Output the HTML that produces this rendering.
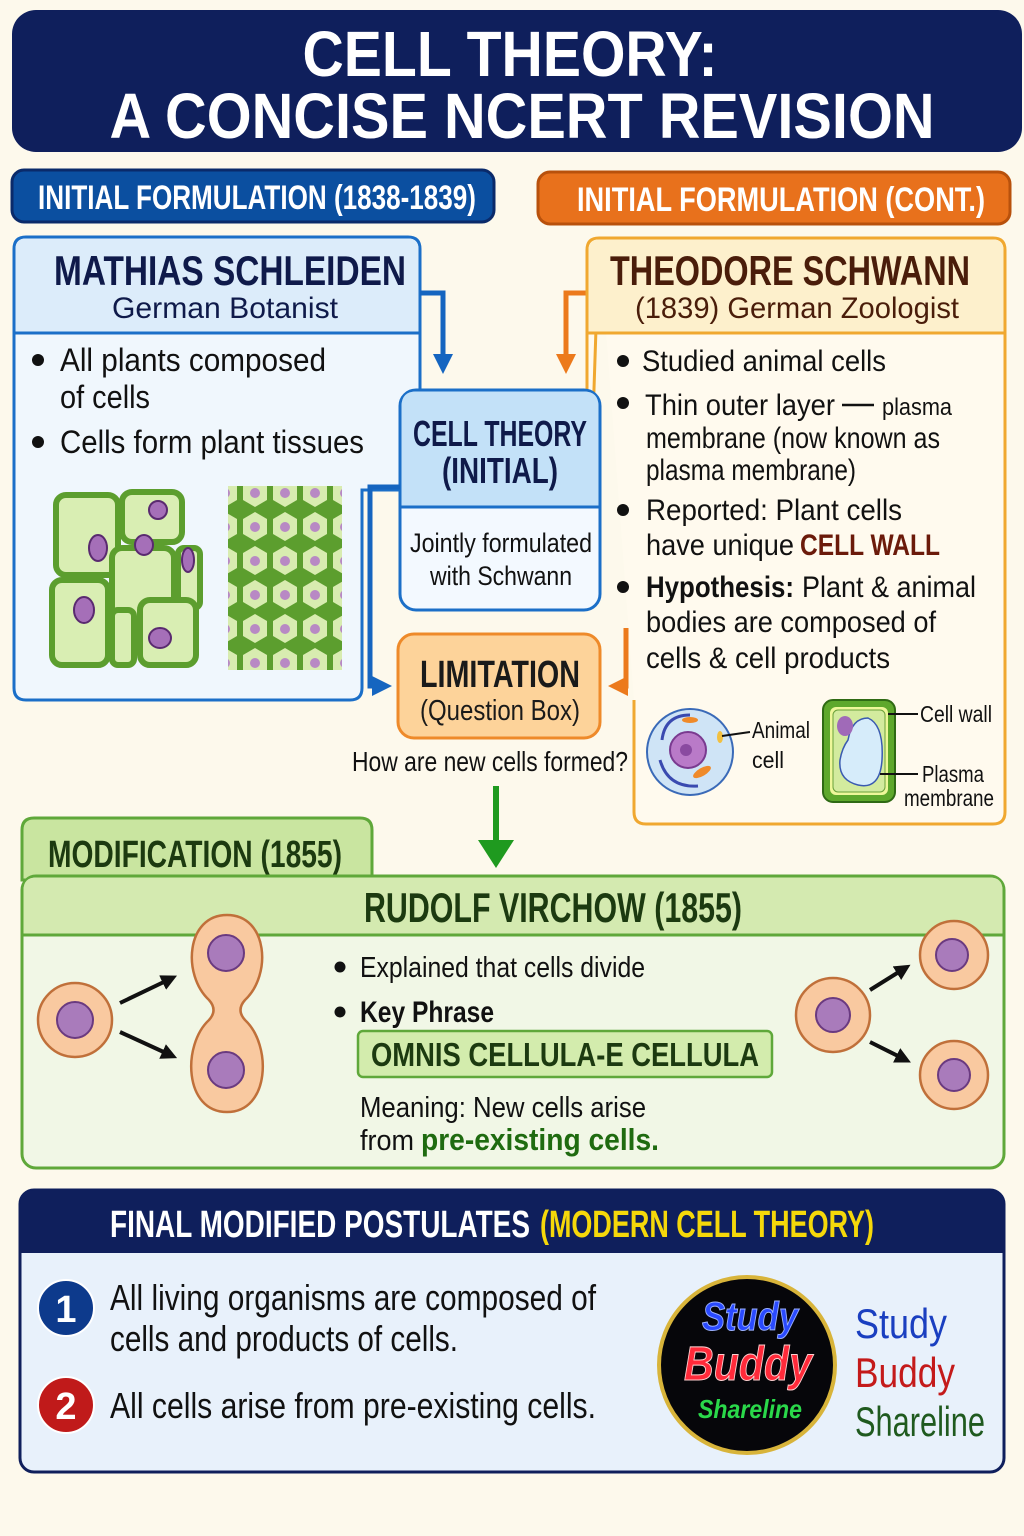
<!DOCTYPE html>
<html><head><meta charset="utf-8"><style>
html,body{margin:0;padding:0;background:#fdf9ec}
svg{display:block}
text{font-family:"Liberation Sans Narrow","Liberation Sans",sans-serif}
.b{font-weight:bold}
</style></head><body>
<svg width="1024" height="1536" viewBox="0 0 1024 1536" xmlns="http://www.w3.org/2000/svg">
<defs>
<marker id="ab" markerWidth="20" markerHeight="20" refX="8" refY="10" orient="auto" markerUnits="userSpaceOnUse" viewBox="0 0 20 20"><path d="M0,0 L20,10 L0,20 z" fill="#1565c0"/></marker>
<marker id="ao" markerWidth="20" markerHeight="20" refX="8" refY="10" orient="auto" markerUnits="userSpaceOnUse" viewBox="0 0 20 20"><path d="M0,0 L20,10 L0,20 z" fill="#ec7a1c"/></marker>
<marker id="ak" markerWidth="16" markerHeight="16" refX="6" refY="8" orient="auto" markerUnits="userSpaceOnUse" viewBox="0 0 16 16"><path d="M0,0 L16,8 L0,16 z" fill="#111"/></marker>
<pattern id="hex" width="30" height="34" patternUnits="userSpaceOnUse">
<rect width="30" height="34" fill="#5c9e2e"/>
<polygon points="15,2 27,9 27,24 15,31 3,24 3,9" fill="#d8ecb0"/>
<circle cx="15" cy="17" r="5" fill="#b889c4"/>
</pattern>
</defs>
<rect width="1024" height="1536" fill="#fdf9ec"/>

<rect x="12" y="10" width="1010" height="142" rx="24" fill="#0f1f5c"/>
<text x="510" y="76" text-anchor="middle" class="b" font-size="64" fill="#fff" textLength="415" lengthAdjust="spacingAndGlyphs">CELL THEORY:</text>
<text x="522" y="138" text-anchor="middle" class="b" font-size="64" fill="#fff" textLength="825" lengthAdjust="spacingAndGlyphs">A CONCISE NCERT REVISION</text>

<rect x="12" y="170" width="482" height="52" rx="12" fill="#0b4fa0" stroke="#0a2a6a" stroke-width="3"/>
<text x="257" y="209" text-anchor="middle" class="b" font-size="34" fill="#fff" textLength="438" lengthAdjust="spacingAndGlyphs">INITIAL FORMULATION (1838-1839)</text>
<rect x="538" y="172" width="472" height="52" rx="12" fill="#e8711c" stroke="#b8510c" stroke-width="3"/>
<text x="781" y="211" text-anchor="middle" class="b" font-size="34" fill="#fff" textLength="408" lengthAdjust="spacingAndGlyphs">INITIAL FORMULATION (CONT.)</text>

<path d="M26,237 H408 Q420,237 420,249 V490 H362 V688 Q362,700 350,700 H26 Q14,700 14,688 V249 Q14,237 26,237 Z" fill="#f0f7fd" stroke="#1b6fc8" stroke-width="3"/>
<path d="M26,238.5 H408 Q418.5,238.5 418.5,249 V333 H15.5 V249 Q15.5,238.5 26,238.5 Z" fill="#dcecfa"/>
<line x1="14" y1="333" x2="420" y2="333" stroke="#1b6fc8" stroke-width="3"/>
<text x="230" y="285" text-anchor="middle" class="b" font-size="42" fill="#0f1a4a" textLength="352" lengthAdjust="spacingAndGlyphs">MATHIAS SCHLEIDEN</text>
<text x="225" y="318" text-anchor="middle" font-size="30" fill="#0f1a4a" textLength="226" lengthAdjust="spacingAndGlyphs">German Botanist</text>
<circle cx="38" cy="360" r="6" fill="#111"/>
<text x="60" y="371" font-size="32" fill="#111" textLength="266" lengthAdjust="spacingAndGlyphs">All plants composed</text>
<text x="60" y="408" font-size="32" fill="#111" textLength="90" lengthAdjust="spacingAndGlyphs">of cells</text>
<circle cx="38" cy="442" r="6" fill="#111"/>
<text x="60" y="453" font-size="32" fill="#111" textLength="304" lengthAdjust="spacingAndGlyphs">Cells form plant tissues</text>

<g stroke="#5c9e2e" stroke-width="6" fill="#d9eeb3">
<rect x="56" y="495" width="62" height="80" rx="10"/>
<rect x="122" y="492" width="60" height="50" rx="10"/>
<rect x="112" y="548" width="62" height="90" rx="10"/>
<rect x="178" y="548" width="22" height="60" rx="6"/>
<rect x="52" y="580" width="56" height="85" rx="10"/>
<rect x="112" y="610" width="22" height="55" rx="6"/>
<rect x="140" y="600" width="56" height="65" rx="10"/>
</g>
<g fill="#a56fb8" stroke="#5a2a70" stroke-width="2">
<ellipse cx="98" cy="548" rx="9" ry="13"/><ellipse cx="158" cy="510" rx="9" ry="9"/>
<ellipse cx="144" cy="545" rx="9" ry="10"/><ellipse cx="188" cy="560" rx="6" ry="12"/>
<ellipse cx="84" cy="610" rx="10" ry="13"/><ellipse cx="160" cy="638" rx="11" ry="10"/>
</g>
<rect x="228" y="486" width="114" height="184" fill="url(#hex)"/>

<path d="M420,293 H443 V362" fill="none" stroke="#1565c0" stroke-width="5" marker-end="url(#ab)"/>
<path d="M587,293 H566 V362" fill="none" stroke="#ec7a1c" stroke-width="5" marker-end="url(#ao)"/>

<path d="M599,238 H993 Q1005,238 1005,250 V812 Q1005,824 993,824 H646 Q634,824 634,812 V700 M587,600 V250 Q587,238 599,238 Z" fill="#fffaee" stroke="#f0a830" stroke-width="3"/>
<path d="M599,239.5 H993 Q1003.5,239.5 1003.5,250 V333 H588.5 V250 Q588.5,239.5 599,239.5 Z" fill="#fdf0cc"/>
<line x1="587" y1="333" x2="1005" y2="333" stroke="#f0a830" stroke-width="3"/>
<text x="790" y="285" text-anchor="middle" class="b" font-size="42" fill="#4a1d0a" textLength="360" lengthAdjust="spacingAndGlyphs">THEODORE SCHWANN</text>
<text x="797" y="318" text-anchor="middle" font-size="30" fill="#4a1d0a" textLength="324" lengthAdjust="spacingAndGlyphs">(1839) German Zoologist</text>
<g fill="#111" font-size="30">
<circle cx="623" cy="361" r="6"/>
<text x="642" y="371" textLength="244" lengthAdjust="spacingAndGlyphs">Studied animal cells</text>
<circle cx="623" cy="403" r="6"/>
<text x="645" y="415" textLength="190" lengthAdjust="spacingAndGlyphs">Thin outer layer</text>
<line x1="842" y1="405" x2="874" y2="405" stroke="#111" stroke-width="2.5"/>
<text x="882" y="415" font-size="24" textLength="70" lengthAdjust="spacingAndGlyphs">plasma</text>
<text x="646" y="448" textLength="294" lengthAdjust="spacingAndGlyphs">membrane (now known as</text>
<text x="646" y="480" textLength="210" lengthAdjust="spacingAndGlyphs">plasma membrane)</text>
<circle cx="623" cy="510" r="6"/>
<text x="646" y="520" textLength="256" lengthAdjust="spacingAndGlyphs">Reported: Plant cells</text>
<text x="646" y="555" textLength="148" lengthAdjust="spacingAndGlyphs">have unique</text>
<text x="800" y="555" class="b" fill="#6b1a0a" textLength="140" lengthAdjust="spacingAndGlyphs">CELL WALL</text>
<circle cx="623" cy="587" r="6"/>
<text x="646" y="597" class="b" textLength="148" lengthAdjust="spacingAndGlyphs">Hypothesis:</text>
<text x="802" y="597" textLength="174" lengthAdjust="spacingAndGlyphs">Plant &amp; animal</text>
<text x="646" y="632" textLength="290" lengthAdjust="spacingAndGlyphs">bodies are composed of</text>
<text x="646" y="668" textLength="244" lengthAdjust="spacingAndGlyphs">cells &amp; cell products</text>
</g>
<circle cx="690" cy="752" r="43" fill="#cfe4f6" stroke="#3a6ab8" stroke-width="2"/>
<path d="M662,740 Q665,715 690,715 M660,760 Q668,788 698,786" fill="none" stroke="#3a4ab0" stroke-width="3"/>
<circle cx="688" cy="750" r="18" fill="#b97ac8" stroke="#7a3a90" stroke-width="2"/>
<circle cx="686" cy="750" r="6" fill="#8a4aa0"/>
<ellipse cx="702" cy="772" rx="10" ry="4" fill="#ef8a2a" transform="rotate(-30 702 772)"/>
<ellipse cx="690" cy="720" rx="8" ry="3" fill="#ef8a2a"/>
<ellipse cx="720" cy="737" rx="3" ry="6" fill="#f2c040"/>
<line x1="722" y1="736" x2="750" y2="732" stroke="#111" stroke-width="2"/>
<text x="752" y="738" font-size="23" fill="#111" textLength="58" lengthAdjust="spacingAndGlyphs">Animal</text>
<text x="752" y="768" font-size="23" fill="#111" textLength="32" lengthAdjust="spacingAndGlyphs">cell</text>
<rect x="823" y="700" width="72" height="102" rx="10" fill="#5ea82c" stroke="#2f6a14" stroke-width="2"/>
<rect x="830" y="707" width="58" height="88" rx="6" fill="#eef79a"/>
<rect x="833" y="710" width="52" height="82" rx="5" fill="#d3eb9e" stroke="#6aa03a"/>
<path d="M848,740 Q852,718 868,718 Q884,725 882,760 Q880,790 858,785 Q838,780 840,760 Q842,748 848,740Z" fill="#d6ecfa" stroke="#3a5ab0" stroke-width="1.5"/>
<ellipse cx="845" cy="726" rx="8" ry="10" fill="#a06ab8"/>
<line x1="888" y1="714" x2="918" y2="714" stroke="#111" stroke-width="2"/>
<line x1="880" y1="774" x2="918" y2="774" stroke="#111" stroke-width="2"/>
<text x="920" y="722" font-size="23" fill="#111" textLength="72" lengthAdjust="spacingAndGlyphs">Cell wall</text>
<text x="922" y="782" font-size="23" fill="#111" textLength="62" lengthAdjust="spacingAndGlyphs">Plasma</text>
<text x="904" y="806" font-size="23" fill="#111" textLength="90" lengthAdjust="spacingAndGlyphs">membrane</text>

<rect x="400" y="390" width="200" height="220" rx="16" fill="#f3f9ff" stroke="#1b6fc8" stroke-width="3"/>
<path d="M416,391.5 H584 Q598.5,391.5 598.5,406 V507 H401.5 V406 Q401.5,391.5 416,391.5Z" fill="#c3e1f8"/>
<line x1="400" y1="507" x2="600" y2="507" stroke="#1b6fc8" stroke-width="3"/>
<text x="500" y="446" text-anchor="middle" class="b" font-size="36" fill="#0f1a4a" textLength="174" lengthAdjust="spacingAndGlyphs">CELL THEORY</text>
<text x="500" y="483" text-anchor="middle" class="b" font-size="36" fill="#0f1a4a" textLength="116" lengthAdjust="spacingAndGlyphs">(INITIAL)</text>
<text x="501" y="552" text-anchor="middle" font-size="27" fill="#111" textLength="182" lengthAdjust="spacingAndGlyphs">Jointly formulated</text>
<text x="501" y="585" text-anchor="middle" font-size="27" fill="#111" textLength="142" lengthAdjust="spacingAndGlyphs">with Schwann</text>

<path d="M400,487 H370 V686 H380" fill="none" stroke="#1565c0" stroke-width="5" marker-end="url(#ab)"/>
<path d="M626,628 V686 H620" fill="none" stroke="#ec7a1c" stroke-width="5" marker-end="url(#ao)"/>

<rect x="398" y="634" width="202" height="104" rx="16" fill="#fdd39a" stroke="#ee8a2a" stroke-width="3"/>
<text x="500" y="687" text-anchor="middle" class="b" font-size="38" fill="#1a1a1a" textLength="160" lengthAdjust="spacingAndGlyphs">LIMITATION</text>
<text x="500" y="720" text-anchor="middle" font-size="29" fill="#1a1a1a" textLength="160" lengthAdjust="spacingAndGlyphs">(Question Box)</text>
<text x="490" y="771" text-anchor="middle" font-size="28" fill="#111" textLength="276" lengthAdjust="spacingAndGlyphs">How are new cells formed?</text>
<path d="M496,786 V852" stroke="#1f9a1f" stroke-width="6"/>
<path d="M478,840 L514,840 L496,868 Z" fill="#1f9a1f"/>

<path d="M34,818 H360 Q372,818 372,830 V880 H22 V830 Q22,818 34,818Z" fill="#c9e5a0" stroke="#5fa83a" stroke-width="3"/>
<text x="48" y="867" class="b" font-size="38" fill="#1c3a10" textLength="294" lengthAdjust="spacingAndGlyphs">MODIFICATION (1855)</text>
<rect x="22" y="876" width="982" height="292" rx="14" fill="#f1f7e6" stroke="#5fa83a" stroke-width="3"/>
<path d="M36,877.5 H990 Q1002.5,877.5 1002.5,890 V935 H23.5 V890 Q23.5,877.5 36,877.5Z" fill="#d4eab0"/>
<line x1="22" y1="935" x2="1004" y2="935" stroke="#5fa83a" stroke-width="3"/>
<text x="553" y="922" text-anchor="middle" class="b" font-size="42" fill="#1c3a10" textLength="378" lengthAdjust="spacingAndGlyphs">RUDOLF VIRCHOW (1855)</text>

<g stroke="#c0703a" stroke-width="2.5" fill="#f9c9a0">
<circle cx="75" cy="1020" r="37"/>
<path d="M227,915 C268,915 272,975 245,1000 Q236,1010 245,1020 C272,1045 270,1112 227,1112 C184,1112 182,1045 209,1020 Q218,1010 209,1000 C182,975 186,915 227,915Z"/>
<circle cx="833" cy="1015" r="37"/>
<circle cx="954" cy="955" r="34"/>
<circle cx="954" cy="1075" r="34"/>
</g>
<g fill="#a97bbb" stroke="#6a3a80" stroke-width="2">
<circle cx="75" cy="1020" r="18"/><circle cx="226" cy="953" r="18"/><circle cx="226" cy="1070" r="18"/>
<circle cx="833" cy="1015" r="17"/><circle cx="952" cy="955" r="16"/><circle cx="954" cy="1075" r="16"/>
</g>
<g stroke="#111" stroke-width="4">
<line x1="120" y1="1003" x2="168" y2="980" marker-end="url(#ak)"/>
<line x1="120" y1="1032" x2="168" y2="1054" marker-end="url(#ak)"/>
<line x1="870" y1="990" x2="902" y2="970" marker-end="url(#ak)"/>
<line x1="870" y1="1042" x2="902" y2="1058" marker-end="url(#ak)"/>
</g>
<circle cx="340" cy="967" r="5.5" fill="#111"/>
<text x="360" y="977" font-size="29" fill="#111" textLength="285" lengthAdjust="spacingAndGlyphs">Explained that cells divide</text>
<circle cx="340" cy="1012" r="5.5" fill="#111"/>
<text x="360" y="1022" class="b" font-size="30" fill="#111" textLength="134" lengthAdjust="spacingAndGlyphs">Key Phrase</text>
<rect x="358" y="1031" width="414" height="46" rx="5" fill="#d3ecad" stroke="#5fa83a" stroke-width="2.5"/>
<text x="565" y="1066" text-anchor="middle" class="b" font-size="33" fill="#1c3a10" textLength="388" lengthAdjust="spacingAndGlyphs">OMNIS CELLULA-E CELLULA</text>
<text x="360" y="1117" font-size="29" fill="#111" textLength="286" lengthAdjust="spacingAndGlyphs">Meaning: New cells arise</text>
<text x="360" y="1150" font-size="29" fill="#111" textLength="54" lengthAdjust="spacingAndGlyphs">from</text>
<text x="421" y="1150" class="b" font-size="31" fill="#1f6b10" textLength="238" lengthAdjust="spacingAndGlyphs">pre-existing cells.</text>

<rect x="20" y="1190" width="984" height="282" rx="14" fill="#e8f1fb" stroke="#0f1f5c" stroke-width="3"/>
<path d="M34,1190 H990 Q1004,1190 1004,1204 V1253 H20 V1204 Q20,1190 34,1190Z" fill="#0f1f5c"/>
<text x="110" y="1237" class="b" font-size="38" fill="#fff" textLength="420" lengthAdjust="spacingAndGlyphs">FINAL MODIFIED POSTULATES</text>
<text x="540" y="1237" class="b" font-size="38" fill="#f5d80a" textLength="334" lengthAdjust="spacingAndGlyphs">(MODERN CELL THEORY)</text>
<circle cx="66" cy="1308" r="28" fill="#0d3a8c" stroke="#fff" stroke-width="2"/>
<text x="66" y="1322" text-anchor="middle" class="b" font-size="38" fill="#fff">1</text>
<circle cx="66" cy="1405" r="28" fill="#c01a1a" stroke="#fff" stroke-width="2"/>
<text x="66" y="1419" text-anchor="middle" class="b" font-size="38" fill="#fff">2</text>
<text x="110" y="1310" font-size="36" fill="#111" textLength="486" lengthAdjust="spacingAndGlyphs">All living organisms are composed of</text>
<text x="110" y="1351" font-size="36" fill="#111" textLength="348" lengthAdjust="spacingAndGlyphs">cells and products of cells.</text>
<text x="110" y="1418" font-size="36" fill="#111" textLength="486" lengthAdjust="spacingAndGlyphs">All cells arise from pre-existing cells.</text>

<circle cx="747" cy="1365" r="88" fill="#06060a" stroke="#d8b43a" stroke-width="4"/>
<text x="750" y="1330" text-anchor="middle" class="b" font-style="italic" font-size="40" fill="#2a4aff" stroke="#9ab0ff" stroke-width="1" textLength="96" lengthAdjust="spacingAndGlyphs">Study</text>
<text x="748" y="1380" text-anchor="middle" class="b" font-style="italic" font-size="48" fill="#ff2a3a" stroke="#ffd0d0" stroke-width="1" textLength="128" lengthAdjust="spacingAndGlyphs">Buddy</text>
<text x="750" y="1418" text-anchor="middle" class="b" font-style="italic" font-size="26" fill="#2ad84a" textLength="104" lengthAdjust="spacingAndGlyphs">Shareline</text>
<text x="855" y="1338" font-size="42" fill="#1a3fc0" textLength="92" lengthAdjust="spacingAndGlyphs">Study</text>
<text x="855" y="1387" font-size="42" fill="#c41a1a" textLength="100" lengthAdjust="spacingAndGlyphs">Buddy</text>
<text x="855" y="1436" font-size="42" fill="#1f5a1f" textLength="130" lengthAdjust="spacingAndGlyphs">Shareline</text>
</svg>
</body></html>
